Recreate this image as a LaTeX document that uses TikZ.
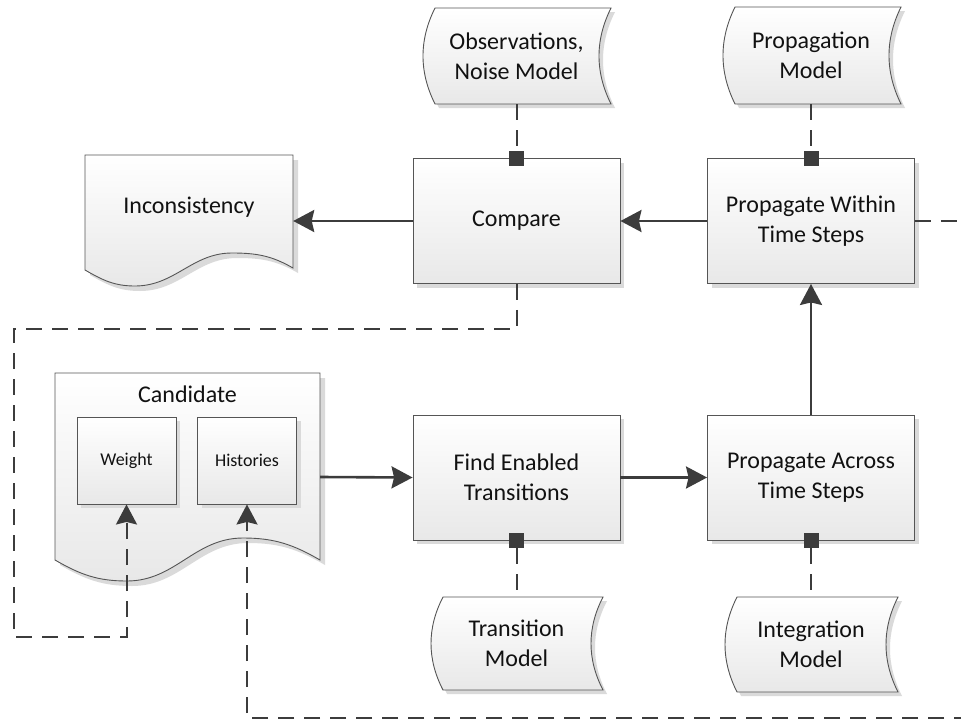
\documentclass[tikz,border=0pt]{standalone}
\usepackage{fontspec}
\setmainfont{Carlito}
\usetikzlibrary{arrows.meta,shadows,calc}

\definecolor{linegray}{HTML}{3C3C3C}
\definecolor{edgegray}{HTML}{555555}
\definecolor{shadowgray}{HTML}{DADADA}
\definecolor{inkgray}{HTML}{111111}

\tikzset{
  procbox/.style={rectangle, draw=edgegray, line width=0.9pt,
    top color=white, bottom color=black!9,
    minimum width=207pt, minimum height=125pt, inner sep=0pt,
    align=center, text=inkgray, font=\fontsize{24}{30}\selectfont,
    drop shadow={shadow xshift=4pt, shadow yshift=-4pt, fill=shadowgray, opacity=1}},
  smallbox/.style={procbox, minimum width=99pt, minimum height=87pt,
    font=\fontsize{18}{22}\selectfont},
  frame/.style={rectangle, inner sep=0pt, draw=none, align=center,
    text=inkgray, font=\fontsize{24}{30}\selectfont},
  caption/.style={inner sep=0pt, align=center, text=inkgray,
    font=\fontsize{24}{30}\selectfont},
  flow/.style={draw=linegray, line width=2.6pt,
    -{Stealth[length=21pt, width=22pt, inset=2.5pt]}},
  dataflow/.style={draw=linegray, line width=2pt, dash pattern=on 16pt off 10pt},
  dataarrow/.style={dataflow, -{Stealth[length=20pt, width=21pt, inset=2.5pt]}},
  port/.style={rectangle, fill=linegray, minimum size=15pt, inner sep=0pt},
  shapeline/.style={draw=edgegray, line width=0.9pt, top color=white, bottom color=black!9},
}

% stored-data shape: left corner x, right corner x, top y, bottom y, bulge
\newcommand\drawstore[5]{%
  \fill[shadowgray, shift={(4,4)}] (#1,#3) -- (#2,#3)
    .. controls ({#2-#5},{#3+(#4-#3)/3}) and ({#2-#5},{#3+2*(#4-#3)/3}) .. (#2,#4)
    -- (#1,#4)
    .. controls ({#1-#5},{#3+2*(#4-#3)/3}) and ({#1-#5},{#3+(#4-#3)/3}) .. cycle;
  \path[shapeline] (#1,#3) -- (#2,#3)
    .. controls ({#2-#5},{#3+(#4-#3)/3}) and ({#2-#5},{#3+2*(#4-#3)/3}) .. (#2,#4)
    -- (#1,#4)
    .. controls ({#1-#5},{#3+2*(#4-#3)/3}) and ({#1-#5},{#3+(#4-#3)/3}) .. cycle;
}

\begin{document}
\begin{tikzpicture}[x=1pt, y=-1pt]
\useasboundingbox (0,0) rectangle (961,728);
\clip (0,0) rectangle (961,728);

% ---------- document shapes ----------
\fill[shadowgray, shift={(5,5)}] (85,155) -- (293,155) -- (293,268)
  to[out=150,in=0] (232,253) to[out=180,in=0] (135,286) to[out=180,in=-30] (85,270) -- cycle;
\path[shapeline] (85,155) -- (293,155) -- (293,268)
  to[out=150,in=0] (232,253) to[out=180,in=0] (135,286) to[out=180,in=-30] (85,270) -- cycle;
\node[frame, minimum width=208pt, minimum height=120pt] (inc) at (189,221) {};
\node[caption] (inctext) at (189,207) {Inconsistency};

\fill[shadowgray, shift={(5,5)}] (55,373) -- (320,373) -- (320,560)
  to[out=150,in=0] (243,538) to[out=180,in=0] (127,581) to[out=180,in=-30] (55,560) -- cycle;
\path[shapeline] (55,373) -- (320,373) -- (320,560)
  to[out=150,in=0] (243,538) to[out=180,in=0] (127,581) to[out=180,in=-30] (55,560) -- cycle;
\node[frame, minimum width=265pt, minimum height=200pt] (cand) at (187.5,477) {};
\node[caption] (candtext) at (187.5,394) {Candidate};
\node[smallbox] (wgt) at (126.5,460.5) {Weight};
\node[smallbox] (his) at (247,460.5) {Histories};

% ---------- stored data ----------
\drawstore{435}{611}{8}{104}{16}
\drawstore{735}{901}{7}{104}{16}
\drawstore{443}{603}{597}{690}{16}
\drawstore{737}{898}{597}{692}{16}
\node[frame, minimum width=180pt, minimum height=96pt] (obs) at (516.5,56) {Observations,\\Noise Model};
\node[frame, minimum width=170pt, minimum height=97pt] (pmod) at (811,55.5) {Propagation\\Model};
\node[frame, minimum width=165pt, minimum height=93pt] (tmod) at (516.5,643.5) {Transition\\Model};
\node[frame, minimum width=165pt, minimum height=95pt] (imod) at (811,644.5) {Integration\\Model};

% ---------- processes ----------
\node[procbox] (cmp) at (516.5,221) {Compare};
\node[procbox] (pwi) at (811,221) {Propagate Within\\Time Steps};
\node[procbox] (fet) at (516.5,477.5) {Find Enabled\\Transitions};
\node[procbox] (pac) at (811,477.5) {Propagate Across\\Time Steps};

% ---------- model ports ----------
\node[port] (pcmp) at (cmp.north) {};
\node[port] (ppwi) at (pwi.north) {};
\node[port] (pfet) at (fet.south) {};
\node[port] (ppac) at (pac.south) {};

\draw[dataflow] (obs.south) -- (pcmp.north);
\draw[dataflow] (pmod.south) -- (ppwi.north);
\draw[dataflow] (pfet.south) -- (tmod.north);
\draw[dataflow] (ppac.south) -- (imod.north);

% ---------- main flow ----------
\draw[flow] (pwi.west) -- (cmp.east);
\draw[flow] (cmp.west) -- (inc.east);
\draw[flow] (cand.east) -- (fet.west);
\draw[flow] (fet.east) -- (pac.west);
\draw[flow] (pac.north) -- (pwi.south);

% ---------- feedback loops ----------
\coordinate (loopA) at (14,329);
\coordinate (loopB) at (14,637);
\draw[dataarrow] (cmp.south) -- (cmp.south |- loopA) -- (loopA) -- (loopB)
  -- (loopB -| wgt.south) -- (wgt.south);

\coordinate (farR) at (980,718);
\draw[dataarrow] (pwi.east) -- (pwi.east -| farR) -- (farR)
  -- (farR -| his.south) -- (his.south);
\end{tikzpicture}
\end{document}
